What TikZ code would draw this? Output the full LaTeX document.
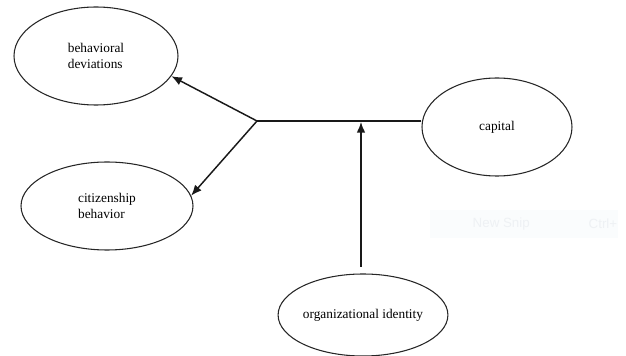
\documentclass[tikz,border=0pt]{standalone}
\usepackage{fontspec}
\setmainfont{Liberation Serif}
\setsansfont{Liberation Sans}
\usetikzlibrary{arrows.meta,shapes.geometric}

\definecolor{snipbg}{RGB}{250,252,253}
\definecolor{sniptext}{RGB}{238,241,244}

\begin{document}
\begin{tikzpicture}[x=0.75pt, y=-0.75pt,
    every node/.style={font=\fontsize{10}{12}\selectfont},
    oval/.style={draw=black!85, line width=0.8pt, ellipse, inner sep=0pt, align=left},
    link/.style={line width=1.1pt, black!90},
    arr/.style={link, -{Latex[length=8pt, width=6.5pt]}}]
    \useasboundingbox (0,0) rectangle (626,356);

    % faint screenshot remnant
    \fill[snipbg] (430,210) rectangle (618,238);
    \node[sniptext, font=\sffamily\fontsize{10}{12}\selectfont, anchor=west] (snip) at (468,224) {New Snip};
    \node[sniptext, font=\sffamily\fontsize{10}{12}\selectfont, anchor=west] (ctrl) at (584,224) {Ctrl+};

    % Ellipses
    \node[oval, minimum width=123pt, minimum height=73.5pt] (bd) at (96,56) {behavioral\\deviations};
    \node[oval, minimum width=129pt, minimum height=66pt] (cb) at (107,206) {citizenship\\behavior};
    \node[oval, minimum width=112.5pt, minimum height=73.5pt] (cap) at (497,127) {capital};
    \node[oval, minimum width=109.5pt, minimum height=61.5pt] (oi) at (363,315) {organizational identity};

    % Junctions
    \coordinate (jn) at (257,121);
    \coordinate (mid) at (361,122);
    \coordinate (oitop) at (361,267);

    % Links
    \draw[link] (cap.west |- jn) -- (jn);
    \draw[arr] (jn) -- (bd.-15);
    \draw[arr] (jn) -- (cb.7);
    \draw[arr] (oitop) -- (mid);
\end{tikzpicture}
\end{document}
